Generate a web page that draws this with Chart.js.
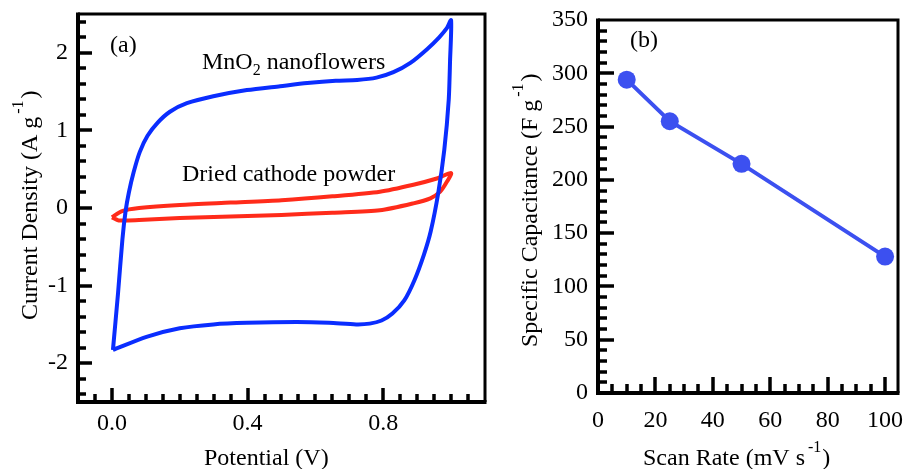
<!DOCTYPE html>
<html>
<head>
<meta charset="utf-8">
<script src="https://cdn.jsdelivr.net/npm/chart.js@4/dist/chart.umd.min.js"></script>
<style>
  body { margin: 0; background: #fff; }
  #wrap { position: relative; width: 907px; height: 469px; overflow: hidden; }
  canvas { position: absolute; top: 0; }
</style>
</head>
<body>
<div id="wrap">
  <canvas id="cv" width="495" height="469" style="left:0"></canvas>
  <canvas id="rate" width="412" height="469" style="left:495px"></canvas>
</div>
<script>
// (a) cyclic voltammograms, potential (V) / current density (A g-1)
var mnoV = [0.003, 0.018, 0.031, 0.040, 0.050, 0.064, 0.082, 0.105, 0.135, 0.171, 0.221, 0.299, 0.398,
    0.496, 0.576, 0.660, 0.723, 0.780, 0.830, 0.880, 0.930, 0.965, 0.988, 1.000, 0.997, 0.993, 0.980,
    0.962, 0.940, 0.920, 0.892, 0.862, 0.827, 0.795, 0.760, 0.720, 0.640, 0.545, 0.398, 0.299, 0.200,
    0.102, 0.003];
var mnoI = [-1.83, -1.10, -0.40, -0.05, 0.20, 0.46, 0.72, 0.93, 1.10, 1.24, 1.35, 1.44, 1.52,
    1.57, 1.61, 1.64, 1.65, 1.68, 1.75, 1.87, 2.05, 2.20, 2.32, 2.42, 1.90, 1.39, 0.75,
    0.19, -0.30, -0.60, -0.93, -1.19, -1.36, -1.45, -1.49, -1.50, -1.48, -1.47, -1.48, -1.50, -1.55,
    -1.66, -1.83];
var dryV = [0.000, 0.030, 0.080, 0.200, 0.350, 0.500, 0.650, 0.790, 0.889, 0.958, 1.000,
    0.988, 0.968, 0.939, 0.889, 0.790, 0.650, 0.500, 0.350, 0.200, 0.080, 0.020, 0.000];
var dryI = [-0.12, -0.04, 0.00, 0.04, 0.07, 0.10, 0.15, 0.21, 0.30, 0.38, 0.45,
    0.34, 0.21, 0.125, 0.06, -0.03, -0.06, -0.09, -0.11, -0.13, -0.155, -0.16, -0.12];
var potTicks = [0, 0.4, 0.8];
var curTicks = [-2, -1, 0, 1, 2];

// (b) specific capacitance vs scan rate
var scanRate = [10, 25, 50, 100];
var specCap = [294, 255, 215, 128];
var rateTicks = [0, 20, 40, 60, 80, 100];
var capTicks = [0, 50, 100, 150, 200, 250, 300, 350];

var serif = "'Liberation Serif', 'Times New Roman', serif";
var tickFont = { family: serif, size: 24 };

function pts(xs, ys) {
    return xs.map(function (v, i) { return { x: v, y: ys[i] }; });
}

// text with sub/superscripts, optionally rotated
function rich(ctx, parts, x, y, rot) {
    ctx.save();
    ctx.translate(x, y);
    if (rot) ctx.rotate(-Math.PI / 2);
    ctx.fillStyle = '#000';
    ctx.textBaseline = 'alphabetic';
    ctx.textAlign = 'left';
    var cx = 0;
    parts.forEach(function (p) {
        ctx.font = (p.size || 24) + 'px ' + serif;
        cx += p.gap || 0;
        ctx.fillText(p.t, cx, p.dy || 0);
        cx += ctx.measureText(p.t).width;
    });
    ctx.restore();
}

// box frame, inward ticks, labels
var frame = {
    id: 'frame',
    afterDraw: function (chart, args, o) {
        var ctx = chart.ctx, a = chart.chartArea, xs = chart.scales.x, ys = chart.scales.y;
        ctx.save();
        ctx.strokeStyle = '#000';
        ctx.lineCap = 'butt';

        ctx.lineWidth = 3.5;
        for (var i = 0; ; i++) {
            var v = o.x[0] + i * o.x[2];
            if (v > o.x[1] + 1e-9) break;
            var big = Math.abs(v / o.x[3] - Math.round(v / o.x[3])) < 1e-6;
            var px = Math.round(xs.getPixelForValue(v));
            ctx.beginPath();
            ctx.moveTo(px, a.bottom);
            ctx.lineTo(px, a.bottom - (big ? o.big : o.small));
            ctx.stroke();
        }
        for (var j = 0; ; j++) {
            var w = o.y[0] + j * o.y[2];
            if (w > o.y[1] + 1e-9) break;
            var bigy = Math.abs(w / o.y[3] - Math.round(w / o.y[3])) < 1e-6;
            var py = Math.round(ys.getPixelForValue(w));
            ctx.beginPath();
            ctx.moveTo(a.left, py);
            ctx.lineTo(a.left + (bigy ? o.big : o.small), py);
            ctx.stroke();
        }

        ctx.lineWidth = 3;
        ctx.beginPath();
        ctx.moveTo(a.left, a.top);
        ctx.lineTo(a.right, a.top);
        ctx.lineTo(a.right, a.bottom);
        ctx.stroke();
        ctx.lineWidth = 4;
        ctx.beginPath();
        ctx.moveTo(a.left, a.top - 1.5);
        ctx.lineTo(a.left, a.bottom);
        ctx.lineTo(a.right + 1.5, a.bottom);
        ctx.stroke();
        ctx.restore();

        (o.texts || []).forEach(function (t) {
            rich(ctx, t.parts, t.x, t.y, t.rot);
        });
    }
};

// fixed axis sizes, no label overhang padding, so the plot box sits where the figure has it
function axis(min, max, list, fmt, pad, size) {
    return {
        type: 'linear', min: min, max: max,
        grid: { display: false, drawTicks: false },
        border: { display: false },
        afterBuildTicks: function (s) { s.ticks = list.map(function (v) { return { value: v }; }); },
        afterFit: function (s) {
            if (s.isHorizontal()) s.height = size; else s.width = size;
            s.paddingLeft = s.paddingRight = s.paddingTop = s.paddingBottom = 0;
        },
        ticks: { font: tickFont, color: '#000', padding: pad, autoSkip: false, maxRotation: 0, callback: fmt }
    };
}

new Chart(document.getElementById('cv'), {
    type: 'scatter',
    data: {
        datasets: [{
            data: pts(mnoV, mnoI),
            showLine: true, borderColor: '#0a2dff', borderWidth: 4,
            pointRadius: 0, tension: 0.25
        }, {
            data: pts(dryV, dryI),
            showLine: true, borderColor: '#ff2b1a', borderWidth: 4,
            pointRadius: 0, tension: 0.25
        }]
    },
    options: {
        responsive: false,
        animation: false,
        layout: { padding: { top: 14, right: 10, left: 0, bottom: 0 } },
        scales: {
            x: axis(-0.1, 1.1, potTicks, function (v) { return v.toFixed(1); }, 7, 67),
            y: axis(-2.5, 2.5, curTicks, function (v) { return '' + v; }, 10, 78)
        },
        plugins: {
            legend: { display: false },
            tooltip: { enabled: false },
            frame: {
                x: [-0.05, 1.05, 0.05, 0.4], y: [-2.4, 2.4, 0.2, 1], big: 14, small: 8,
                texts: [
                    { parts: [{ t: '(a)' }], x: 110, y: 52 },
                    { parts: [{ t: 'MnO' }, { t: '2', size: 16, dy: 6 }, { t: ' nanoflowers' }], x: 202, y: 69 },
                    { parts: [{ t: 'Dried cathode powder' }], x: 182, y: 181 },
                    { parts: [{ t: 'Potential (V)' }], x: 204, y: 465 },
                    { parts: [{ t: 'Current Density (A g' }, { t: '-1', size: 16, dy: -14, gap: 3 }, { t: ')', gap: 2 }],
                        x: 37, y: 320, rot: true }
                ]
            }
        }
    },
    plugins: [frame]
});

new Chart(document.getElementById('rate'), {
    type: 'scatter',
    data: {
        datasets: [{
            data: pts(scanRate, specCap),
            showLine: true, borderColor: '#3c50f0', borderWidth: 4,
            pointRadius: 9, pointBackgroundColor: '#3c50f0', pointBorderWidth: 0
        }]
    },
    options: {
        responsive: false,
        animation: false,
        layout: { padding: { top: 20, right: 7, left: 0, bottom: 0 } },
        scales: {
            x: axis(0, 104.5, rateTicks, function (v) { return '' + v; }, 13, 76),
            y: axis(0, 350, capTicks, function (v) { return '' + v; }, 10, 103)
        },
        plugins: {
            legend: { display: false },
            tooltip: { enabled: false },
            frame: {
                x: [5, 100, 5, 20], y: [10, 340, 10, 50], big: 16, small: 9,
                texts: [
                    { parts: [{ t: '(b)' }], x: 135, y: 47 },
                    { parts: [{ t: 'Scan Rate (mV s' }, { t: '-1', size: 16, dy: -13, gap: 3 }, { t: ')', gap: 1 }],
                        x: 148, y: 465 },
                    { parts: [{ t: 'Specific Capacitance (F g' }, { t: '-1', size: 16, dy: -14, gap: 3 }, { t: ')', gap: 2 }],
                        x: 42, y: 347, rot: true }
                ]
            }
        }
    },
    plugins: [frame]
});
</script>
</body>
</html>
